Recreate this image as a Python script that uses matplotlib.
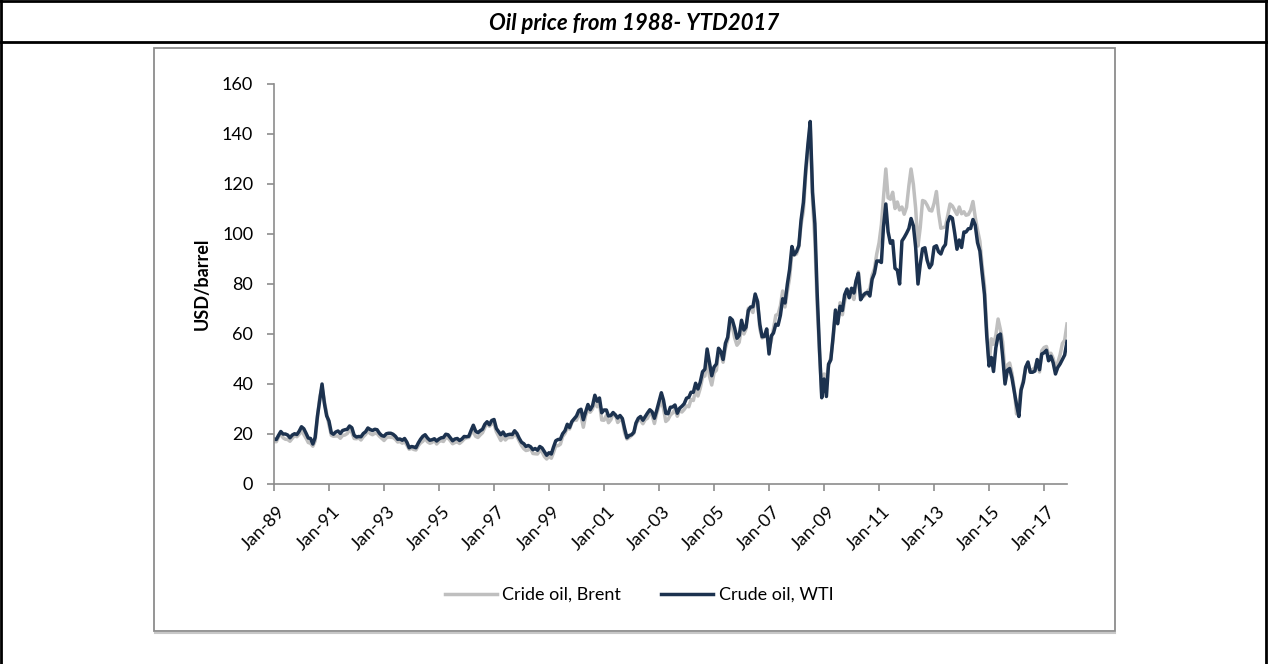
import numpy as np
import pandas as pd
import matplotlib
matplotlib.use("Agg")
import matplotlib.pyplot as plt
import matplotlib.dates as mdates
from matplotlib.lines import Line2D
from matplotlib.patches import Rectangle
from matplotlib.transforms import ScaledTranslation

plt.rcParams['font.family'] = ['Lato', 'DejaVu Sans']

# monthly values, Jan 1989 - Nov 2017 (USD/barrel)
start_month = "1989-01-01"

wti = [
	18.0, 17.8, 19.4, 21.0, 20.0, 20.0, 19.6, 18.5, 19.6, 20.1, 19.8, 21.1,
	22.9, 22.1, 20.4, 18.4, 18.2, 16.0, 18.6, 27.2, 33.7, 40.0, 32.3, 27.3,
	25.2, 20.5, 19.9, 20.8, 21.2, 20.2, 21.4, 21.7, 21.9, 23.2, 22.5, 19.5,
	18.8, 19.0, 18.9, 20.2, 20.9, 22.4, 21.8, 21.4, 21.9, 21.7, 20.3, 19.4,
	19.1, 20.1, 20.3, 20.3, 19.9, 19.1, 17.9, 18.0, 17.5, 18.2, 16.7, 14.5,
	15.0, 14.8, 14.5, 16.4, 17.9, 19.1, 19.7, 18.4, 17.5, 17.7, 18.1, 17.2,
	18.0, 18.5, 18.6, 19.9, 19.7, 18.5, 17.3, 18.0, 18.2, 17.4, 18.0, 19.0,
	18.9, 19.1, 21.3, 23.5, 21.2, 20.5, 21.3, 21.9, 23.9, 24.9, 23.7, 25.4,
	25.8, 22.2, 21.0, 19.7, 20.8, 19.3, 19.7, 19.9, 19.8, 21.3, 20.2, 18.3,
	16.7, 16.1, 15.0, 15.4, 14.9, 13.7, 14.2, 13.5, 15.0, 14.4, 12.9, 11.5,
	12.5, 12.0, 14.7, 17.3, 17.8, 17.9, 20.1, 21.3, 23.9, 22.6, 25.0, 26.1,
	27.2, 29.4, 29.9, 25.7, 28.8, 31.8, 29.7, 31.3, 35.5, 33.1, 34.4, 28.5,
	29.6, 29.6, 27.2, 27.4, 28.6, 27.6, 26.4, 27.4, 26.2, 22.2, 18.5, 19.4,
	19.7, 20.7, 24.4, 26.3, 27.0, 25.5, 26.9, 28.4, 29.7, 28.9, 26.3, 29.4,
	32.9, 36.5, 33.6, 28.3, 28.1, 30.7, 30.8, 31.6, 28.3, 30.3, 31.1, 32.1,
	34.3, 34.7, 36.7, 36.7, 40.3, 38.0, 40.7, 44.9, 45.9, 54.0, 48.5, 43.3,
	46.8, 48.0, 54.3, 53.0, 49.8, 56.3, 58.7, 66.5, 65.6, 62.4, 58.3, 59.4,
	65.5, 61.6, 62.7, 69.4, 70.8, 70.9, 76.0, 73.0, 63.8, 58.9, 59.1, 62.0,
	52.0, 59.3, 60.4, 63.9, 63.5, 67.5, 74.1, 72.4, 79.9, 85.8, 95.0, 91.7,
	93.0, 95.4, 105.5, 112.6, 125.4, 136.0, 145.0, 116.7, 104.1, 76.6, 54.0, 34.5,
	42.0, 35.0, 47.9, 49.7, 59.0, 69.6, 64.1, 71.1, 69.4, 75.7, 78.0, 74.5,
	78.3, 76.4, 81.2, 84.3, 73.7, 75.3, 76.3, 76.6, 75.2, 81.9, 84.3, 89.2,
	89.2, 88.6, 102.9, 112.0, 100.9, 96.3, 97.3, 86.3, 85.5, 80.0, 97.2, 98.6,
	100.3, 102.2, 106.2, 103.3, 94.7, 80.0, 87.9, 94.1, 94.5, 89.5, 86.5, 87.9,
	94.8, 95.3, 92.9, 92.0, 94.5, 95.8, 104.6, 107.0, 106.3, 100.5, 93.9, 97.6,
	94.6, 100.8, 100.8, 102.1, 102.2, 105.8, 103.6, 96.5, 93.2, 84.4, 75.8, 59.3,
	47.2, 50.6, 45.0, 54.5, 59.3, 60.0, 50.9, 40.0, 45.5, 46.2, 42.4, 37.2,
	31.7, 27.0, 37.5, 40.8, 46.7, 48.8, 44.7, 44.7, 45.2, 49.8, 45.7, 52.0,
	52.5, 53.5, 49.3, 51.1, 48.5, 44.0, 46.6, 48.0, 49.8, 51.6, 57.0,
]

brent = [
	17.0, 16.9, 18.7, 20.3, 18.5, 17.9, 17.8, 17.1, 18.3, 19.4, 18.9, 19.9,
	21.2, 19.8, 18.4, 16.6, 16.3, 15.1, 17.2, 26.4, 34.9, 38.5, 33.1, 28.2,
	23.6, 19.5, 19.1, 19.2, 19.2, 18.3, 19.4, 19.6, 20.2, 21.6, 20.6, 18.2,
	18.1, 18.4, 17.6, 18.9, 19.8, 21.2, 20.2, 19.7, 20.3, 20.2, 19.1, 18.3,
	17.4, 18.5, 18.8, 18.7, 18.6, 17.9, 16.8, 17.0, 16.3, 17.0, 15.5, 13.9,
	14.3, 13.8, 13.6, 15.3, 16.4, 17.1, 18.3, 16.9, 16.3, 16.6, 17.5, 16.0,
	17.0, 17.3, 17.0, 18.6, 18.4, 17.3, 16.1, 16.6, 16.9, 16.2, 17.0, 18.0,
	18.5, 18.6, 20.3, 20.9, 19.1, 18.6, 19.6, 20.5, 22.6, 24.4, 23.1, 24.0,
	24.0, 20.9, 19.2, 17.4, 18.8, 17.6, 18.5, 18.6, 18.6, 20.0, 19.1, 17.2,
	15.4, 14.1, 13.4, 13.6, 14.4, 12.2, 12.1, 12.0, 13.4, 12.8, 11.0, 10.0,
	11.1, 10.3, 12.5, 15.3, 15.3, 15.9, 19.0, 20.2, 22.5, 22.0, 24.6, 25.7,
	25.5, 27.8, 27.3, 22.7, 27.4, 29.8, 28.7, 30.0, 33.5, 30.9, 32.5, 25.6,
	25.5, 27.5, 24.5, 25.7, 28.1, 27.7, 24.6, 25.6, 25.7, 20.5, 18.0, 18.6,
	19.4, 20.3, 23.7, 25.7, 25.4, 24.1, 25.7, 26.3, 28.4, 27.5, 24.2, 28.2,
	31.2, 32.8, 30.3, 25.0, 25.8, 27.6, 28.4, 29.8, 27.1, 29.6, 28.8, 29.8,
	31.2, 30.9, 33.8, 33.4, 37.6, 35.2, 38.2, 42.7, 43.2, 49.8, 43.1, 39.6,
	44.5, 45.5, 53.1, 51.9, 48.7, 54.3, 57.6, 64.1, 62.9, 58.5, 55.5, 56.7,
	63.0, 60.0, 62.0, 70.3, 69.8, 68.6, 75.0, 73.2, 62.0, 58.4, 58.8, 62.0,
	53.7, 57.6, 62.1, 67.5, 67.9, 71.3, 77.2, 70.8, 77.1, 82.3, 92.5, 91.5,
	92.0, 94.9, 103.7, 109.1, 122.8, 134.0, 143.0, 113.2, 97.2, 71.6, 52.5, 36.0,
	44.0, 42.0, 47.0, 50.8, 57.9, 68.6, 64.4, 72.5, 67.7, 73.2, 77.0, 74.7,
	76.2, 73.8, 79.0, 84.9, 76.3, 74.8, 75.6, 77.1, 78.2, 83.5, 86.1, 92.0,
	96.5, 103.7, 114.6, 126.0, 114.5, 113.9, 116.7, 110.2, 112.8, 109.6, 110.8, 107.9,
	110.7, 119.3, 126.0, 119.8, 110.3, 95.2, 102.6, 113.4, 113.0, 111.5, 109.5, 109.2,
	112.3, 117.0, 108.5, 102.3, 102.6, 102.9, 107.4, 112.0, 111.2, 109.5, 107.8, 110.8,
	108.1, 108.9, 107.5, 107.8, 109.5, 113.0, 106.8, 101.6, 97.1, 87.4, 79.4, 62.3,
	47.8, 58.1, 55.9, 59.5, 66.0, 61.7, 56.8, 44.0, 47.6, 48.4, 44.3, 38.0,
	28.0, 32.2, 38.2, 41.6, 46.7, 48.3, 44.9, 45.8, 46.6, 49.5, 44.8, 53.3,
	54.6, 55.0, 51.6, 52.3, 50.3, 46.4, 48.5, 51.7, 56.2, 57.5, 64.0,
]

labels = ["Cride oil, Brent", "Crude oil, WTI"]
title = "Oil price from 1988- YTD2017"
ylabel = "USD/barrel"

dates = pd.date_range(start_month, periods=len(wti), freq="MS")

W, H = 1268, 664
fig = plt.figure(figsize=(W/100, H/100), dpi=100)

#outer table frame and title row
for (x0, y0, x1, y1) in [(1, 0, 1, H), (W-2, 0, W-2, H), (0, 1, W, 1), (0, 42, W, 42)] :
	fig.add_artist(Line2D([x0/W, x1/W], [1-y0/H, 1-y1/H], transform=fig.transFigure, color="black", lw=2))
fig.text(0.5, 1-24/H, title, ha="center", va="center", fontsize=16, fontweight="bold", fontstyle="italic")

#grey chart box, with a soft shadow on the bottom edge
fig.add_artist(Line2D([155/W, 1115/W], [1-633/H, 1-633/H], transform=fig.transFigure, color="#c8c8c8", lw=1.5))
fig.add_artist(Rectangle((154/W, 1-631/H), (1115-154)/W, (631-48)/H, transform=fig.transFigure,
	fill=False, edgecolor="#8c8c8c", lw=1.3))

ax = fig.add_axes([274/W, 1-484/H, (1067-274)/W, 400/H])
ax.plot(dates, brent, color="#bfbfbf", lw=2.5, label=labels[0])
ax.plot(dates, wti, color="#1c324f", lw=2.5, label=labels[1])

ax.set_ylim(0, 160)
ax.set_yticks(np.arange(0, 161, 20))
ax.set_xlim(dates[0], dates[-1])
ax.set_xticks(pd.date_range("1989-01-01", "2017-01-01", freq="24MS"))
ax.xaxis.set_major_formatter(mdates.DateFormatter("%b-%y"))

for s in ["top", "right"] :
	ax.spines[s].set_visible(False)
for s in ["left", "bottom"] :
	ax.spines[s].set_color("#8c8c8c")
	ax.spines[s].set_linewidth(1.2)
ax.tick_params(axis="both", color="#8c8c8c", width=1.2, length=5, labelsize=13)
ax.tick_params(axis="y", pad=10)
ax.tick_params(axis="x", pad=13)

offset = ScaledTranslation(6/72, 0, fig.dpi_scale_trans)
for lab in ax.get_xticklabels() :
	lab.set_rotation(45)
	lab.set_ha("right")
	lab.set_va("center")
	lab.set_rotation_mode("anchor")
	lab.set_transform(lab.get_transform() + offset)

fig.text(202/W, 1-284/H, ylabel, rotation=90, ha="center", va="center", fontsize=13, fontweight="bold")

fig.legend(loc="center", bbox_to_anchor=(639/W, 1-595/H), ncol=2, frameon=False, fontsize=13,
	handlelength=2.9, handletextpad=0.3, columnspacing=2.2)

fig.savefig("out.png", dpi=100)
